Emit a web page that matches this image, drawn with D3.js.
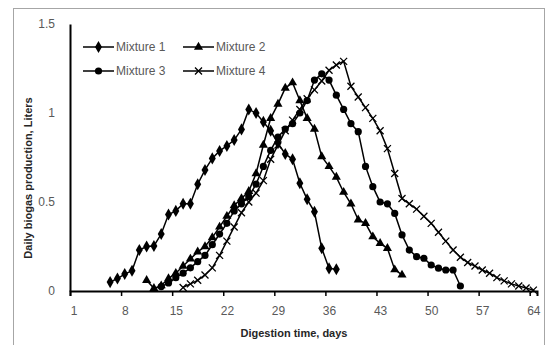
<!DOCTYPE html>
<html>
<head>
<meta charset="utf-8">
<script src="https://cdn.jsdelivr.net/npm/d3@7"></script>
<style>
  body { margin: 0; background: #fff; }
  svg { display: block; }
  text { font-family: "Liberation Sans", Arial, sans-serif; }
</style>
</head>
<body>
<svg id="chart" width="546" height="345"></svg>
<script>
// digestion days and daily biogas (litres)
var xTickDays = [1, 8, 15, 22, 29, 36, 43, 50, 57, 64]
var yTicks = [0, 0.5, 1, 1.5]
var seriesNames = ["Mixture 1", "Mixture 2", "Mixture 3", "Mixture 4"]
var seriesStart = [6, 11, 13, 16]

var mix1 = [0.05, 0.07, 0.095, 0.114, 0.23, 0.25, 0.253, 0.32, 0.43, 0.45, 0.49, 0.49,
    0.60, 0.68, 0.745, 0.787, 0.815, 0.848, 0.908, 1.02, 1.00, 0.95, 0.90, 0.83, 0.77,
    0.74, 0.605, 0.515, 0.445, 0.24, 0.127, 0.122]
var mix2 = [0.06, 0.015, 0.03, 0.07, 0.10, 0.14, 0.18, 0.22, 0.25, 0.30, 0.36, 0.42,
    0.48, 0.52, 0.56, 0.66, 0.82, 0.97, 1.05, 1.14, 1.17, 1.07, 0.97, 0.91, 0.755, 0.70,
    0.64, 0.555, 0.49, 0.40, 0.38, 0.305, 0.268, 0.24, 0.12, 0.09]
var mix3 = [0.025, 0.045, 0.075, 0.10, 0.13, 0.165, 0.20, 0.26, 0.32, 0.38, 0.45, 0.49,
    0.53, 0.60, 0.70, 0.79, 0.865, 0.91, 0.94, 1.0, 1.07, 1.185, 1.22, 1.185, 1.10, 1.02,
    0.94, 0.895, 0.70, 0.586, 0.50, 0.49, 0.436, 0.315, 0.23, 0.193, 0.184, 0.146, 0.128,
    0.118, 0.118, 0.028]
var mix4 = [0.02, 0.04, 0.06, 0.09, 0.13, 0.20, 0.28, 0.36, 0.44, 0.50, 0.55, 0.62,
    0.74, 0.82, 0.90, 0.96, 1.02, 1.08, 1.13, 1.18, 1.24, 1.27, 1.29, 1.15, 1.09, 1.03,
    0.97, 0.90, 0.80, 0.66, 0.52, 0.49, 0.46, 0.42, 0.38, 0.33, 0.28, 0.23, 0.19, 0.16,
    0.14, 0.118, 0.10, 0.075, 0.057, 0.04, 0.028, 0.017, 0.005]

var allSeries = [mix1, mix2, mix3, mix4].map(function (vals, i) {
    return {
        name: seriesNames[i],
        points: vals.map(function (v, j) { return {day: seriesStart[i] + j, value: v}; })
    };
});

var svg = d3.select("#chart");

// outer chart border
svg.append("rect")
    .attr("x", 13.5).attr("y", 8.5)
    .attr("width", 531).attr("height", 345)
    .attr("fill", "none")
    .attr("stroke", "#a6a6a6");

var xScale = d3.scaleLinear().domain([0.5, 64.5]).range([70, 537]),
    yScale = d3.scaleLinear().domain([0, 1.5]).range([291, 24]);

// y axis
var yAxis = svg.append("g")
    .attr("transform", "translate(70,0)")
    .call(d3.axisLeft(yScale).tickValues(yTicks).tickSize(0).tickPadding(15)
        .tickFormat(function (d) { return String(d); }));
yAxis.select(".domain").attr("stroke", "#000").attr("stroke-width", 2);
yAxis.selectAll("text").attr("font-size", "12px").attr("fill", "#595959");

// x axis: tick marks sit between categories, labels on the category
var xMarks = svg.append("g")
    .attr("transform", "translate(0,291)")
    .call(d3.axisBottom(xScale).tickValues(xTickDays.map(function (d) { return d - 0.5; }))
        .tickSize(5).tickFormat(""));
xMarks.select(".domain").attr("stroke", "#000").attr("stroke-width", 2);
xMarks.selectAll(".tick line").attr("stroke", "#000").attr("stroke-width", 1.5);

var xLabels = svg.append("g")
    .attr("transform", "translate(0,291)")
    .call(d3.axisBottom(xScale).tickValues(xTickDays).tickSize(0).tickPadding(15));
xLabels.select(".domain").remove();
xLabels.selectAll("text").attr("font-size", "12px").attr("fill", "#595959");

// axis titles
svg.append("text")
    .attr("transform", "rotate(-90)")
    .attr("x", -178)
    .attr("y", 32)
    .attr("font-size", "11px")
    .attr("font-weight", "bold")
    .attr("fill", "#262626")
    .style("text-anchor", "middle")
    .text("Daily biogas production, Liters");

svg.append("text")
    .attr("x", 294)
    .attr("y", 337)
    .attr("font-size", "11px")
    .attr("font-weight", "bold")
    .attr("fill", "#262626")
    .style("text-anchor", "middle")
    .text("Digestion time, days");

function drawMarker(g, i) {
    if (i == 0) {
        g.append("path").attr("d", d3.symbol().type(d3.symbolDiamond).size(42)).attr("fill", "#000");
    } else if (i == 1) {
        g.append("path").attr("d", d3.symbol().type(d3.symbolTriangle).size(36)).attr("fill", "#000");
    } else if (i == 2) {
        g.append("circle").attr("r", 3.6).attr("fill", "#000");
    } else {
        g.append("path").attr("d", "M-3.5,-3.5L3.5,3.5M-3.5,3.5L3.5,-3.5")
            .attr("stroke", "#000").attr("stroke-width", 1.3).attr("fill", "none");
    }
}

var line = d3.line()
    .x(function (d) { return xScale(d.day); })
    .y(function (d) { return yScale(d.value); });

allSeries.forEach(function (s, i) {
    svg.append("path")
        .datum(s.points)
        .attr("fill", "none")
        .attr("stroke", "#000")
        .attr("stroke-width", 1.5)
        .attr("d", line);

    svg.selectAll(".m" + i)
        .data(s.points)
        .enter().append("g")
        .attr("class", "m" + i)
        .attr("transform", function (d) {
            return "translate(" + xScale(d.day) + "," + yScale(d.value) + ")";
        })
        .each(function () { drawMarker(d3.select(this), i); });
});

// legend, two rows of two
var legendPos = [[83, 47], [183, 47], [83, 71], [183, 71]];
seriesNames.forEach(function (name, i) {
    var lx = legendPos[i][0], ly = legendPos[i][1];
    var lg = svg.append("g");
    lg.append("line")
        .attr("x1", lx).attr("x2", lx + 31)
        .attr("y1", ly).attr("y2", ly)
        .attr("stroke", "#000").attr("stroke-width", 1.5);
    var mk = lg.append("g").attr("transform", "translate(" + (lx + 15.5) + "," + ly + ")");
    drawMarker(mk, i);
    lg.append("text")
        .attr("x", lx + 33)
        .attr("y", ly + 4)
        .attr("font-size", "12px")
        .attr("fill", "#595959")
        .text(name);
});
</script>
</body>
</html>
